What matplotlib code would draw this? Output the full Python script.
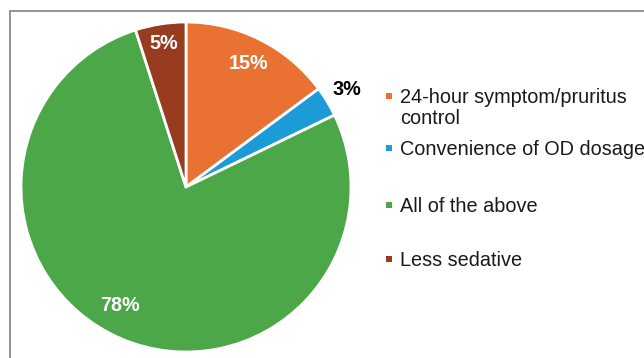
import numpy as np
import matplotlib.pyplot as plt
from matplotlib.patches import Rectangle

plt.rcParams['font.family'] = ['Liberation Sans', 'DejaVu Sans']

# survey answers, clockwise from 12 o'clock
categories = ["24-hour symptom/pruritus\ncontrol", "Convenience of OD dosage",
              "All of the above", "Less sedative"]
shares = [15, 3, 78, 5]
colors = ["#E97131", "#1B9CD8", "#4CA748", "#973C1F"]

fig = plt.figure(figsize=(6.44, 3.58), dpi=100)
W, H = 644, 358

# grey frame around the chart area (runs off the right/bottom edge)
fig.patches.append(Rectangle((10 / W, -0.1), 1.2, 1.1 - 11 / H,
                             transform=fig.transFigure, fill=False,
                             edgecolor="#808080", linewidth=1.2))

ax = fig.add_axes([21 / W, 6 / H, 330 / W, 330 / H])
wedges, _ = ax.pie(shares, colors=colors, startangle=90, counterclock=False,
                   radius=1.0, wedgeprops=dict(edgecolor="white", linewidth=2))
ax.set_xlim(-1, 1)
ax.set_ylim(-1, 1)
ax.set_aspect("equal")
ax.axis("off")

# percentage labels: white inside, the small blue one outside in black
label_r = [0.84, 1.14, 0.82, 0.88]
label_c = ["white", "black", "white", "white"]
label_shift = [0, 0, -6, 0]
for w, v, r, c, s in zip(wedges, shares, label_r, label_c, label_shift):
    mid = np.deg2rad((w.theta1 + w.theta2) / 2 + s)
    ax.text(r * np.cos(mid), r * np.sin(mid), f"{v}%", color=c,
            fontsize=14.2, fontweight="bold", ha="center", va="center")

# legend drawn by hand to keep the uneven row spacing
baselines = [103, 155, 212, 266]
for lab, col, b in zip(categories, colors, baselines):
    fig.patches.append(Rectangle((386.5 / W, (H - b + 4) / H), 6 / W, 6 / H,
                                 transform=fig.transFigure, facecolor=col,
                                 edgecolor="none"))
    lines = lab.split("\n")
    for i, ln in enumerate(lines):
        fig.text(400 / W, (H - b - 21 * i) / H, ln, fontsize=14.3,
                 color="#1a1a1a", ha="left", va="baseline")

fig.savefig("out.png", dpi=100)
